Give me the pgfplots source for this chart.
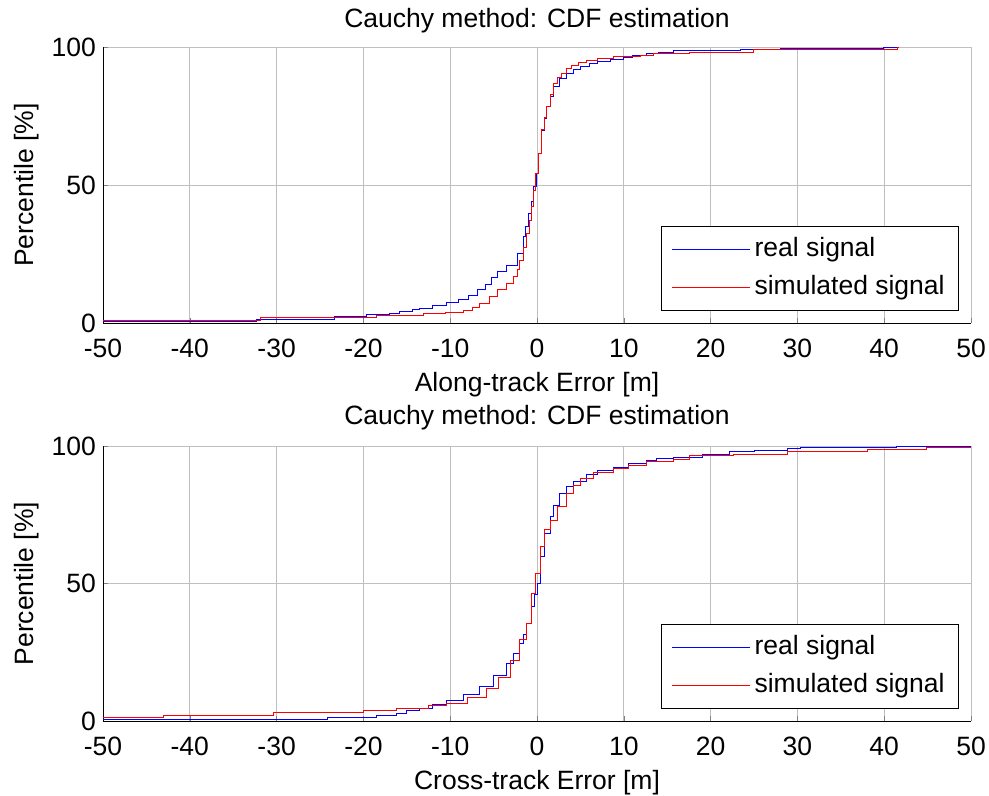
\documentclass[border=0pt]{standalone}
\usepackage{fontspec}
\setmainfont{Liberation Sans}
\usepackage{pgfplots}
\pgfplotsset{compat=1.18}
\newcommand\fs{\fontsize{13.25}{15.9}\selectfont}
\pgfplotsset{cdfax/.style={
  scale only axis, width=434pt,
  xmin=-50, xmax=50, ymin=0, ymax=100,
  xtick={-50,-40,...,50}, ytick={0,50,100},
  axis x line*=bottom, axis y line*=left,
  xtick pos=both, ytick pos=both,
  tick align=inside,
  grid=major, major grid style={draw=black!25},
  major tick length=2.5pt,
  /pgf/number format/assume math mode=true,
  tick label style={font=\fs},
  every x tick label/.append style={anchor=base, yshift=-17.5pt},
  every y tick label/.append style={anchor=east},
  xlabel style={font=\fs, at={(axis description cs:0.5,0)}, anchor=base, yshift=-34.5pt},
  ylabel style={font=\fs, at={(axis description cs:-0.0806,0.5)}, anchor=base},
  title style={font=\fs, at={(axis description cs:0.5,1)}, anchor=base},
  legend style={at={(axis description cs:1,0)}, anchor=south east, xshift=-6pt, yshift=6pt,
    draw=black, font=\fs, inner xsep=5pt, inner ysep=3.3pt,
    row sep=2.7pt, nodes={text height=9.5pt, text depth=2.8pt, inner sep=2pt}},
  legend cell align=left,
  legend image code/.code={\draw[mark repeat=2,mark phase=2,#1] plot coordinates {(0pt,0pt) (19.5pt,0pt) (39pt,0pt)};},
}}
\begin{document}
\begin{tikzpicture}
\useasboundingbox (0,0) rectangle (494.5pt,398pt);
\begin{axis}[cdfax, height=138pt, at={(51.5pt,236.5pt)}, anchor=south west,
  title={Cauchy method: CDF estimation}, title style={yshift=3.5pt},
  xlabel={Along-track Error [m]}, ylabel={Percentile [\%]}]
\addplot[draw=blue, const plot] coordinates {
(-50,0.5) (-32.3,1.3) (-23.3,2.3) (-19.6,3.1) (-17,3.5) (-15.8,4.1) (-14.3,5.0) (-13.5,5.3) (-12,6.2) (-10.4,7.5) (-9,8.5) (-7.9,10) (-6.9,12) (-6,14) (-5.2,16.5) (-4.6,18.6) (-3.5,21) (-2.3,25.2) (-1.6,31.3) (-1.3,35) (-1.0,39.7) (-0.7,44) (-0.4,49.4) (-0.1,54.2) (0.15,61.5) (0.5,69.9) (0.8,74) (1.1,78.4) (1.5,82) (1.9,85.6) (2.6,88.5) (3.4,90.5) (4.2,91.8) (5.0,92.9) (6,93.9) (6.9,94.7) (8.5,95.6) (9.9,96.3) (11,97) (12.6,97.5) (14,98) (15.7,98.6) (23.4,99.3) (28,99.6) (39.9,100) (41.7,100)
};
\addlegendentry{real signal}
\addplot[draw=red, const plot] coordinates {
(-50,1.1) (-31.9,2.1) (-18.5,2.8) (-13.1,3.5) (-10.5,4.0) (-8.5,4.7) (-7.5,5.8) (-6.6,7.1) (-5.5,9.5) (-4.6,12) (-3.5,14.5) (-2.7,16.8) (-2.3,19.5) (-2.0,22.8) (-1.6,27.5) (-1.2,32.5) (-0.9,37) (-0.6,42.1) (-0.4,48) (-0.2,54.2) (0.15,61.5) (0.5,70) (0.8,74.5) (1.1,78.4) (1.5,83) (1.9,86.8) (2.3,89) (2.8,90.5) (3.4,92.3) (4.0,93.5) (4.8,94.3) (5.7,95) (7,95.8) (8.8,96.5) (11.9,97.1) (13.4,97.6) (17.6,98.2) (24.9,99.2) (41.5,100) (41.7,100)
};
\addlegendentry{simulated signal}
\end{axis}
\begin{axis}[cdfax, height=137.5pt, at={(51.5pt,37.5pt)}, anchor=south west,
  title={Cauchy method: CDF estimation}, title style={yshift=4.8pt},
  xlabel={Cross-track Error [m]}, ylabel={Percentile [\%]}]
\addplot[draw=blue, const plot] coordinates {
(-50,0.6) (-24.2,1.3) (-18.5,2.2) (-16.2,2.9) (-15.1,3.7) (-13.6,4.5) (-12,6.2) (-10.4,7.6) (-8.5,9.5) (-6.6,12.5) (-5,16.5) (-3.5,21) (-2.7,24.5) (-2,28.3) (-1.6,31.5) (-1.2,35.5) (-0.6,41.6) (-0.3,46) (0,50.1) (0.35,59.7) (0.9,68.3) (1.5,74.3) (1.9,78.5) (2.6,82.8) (3.4,85.3) (4.2,87) (5.7,89.5) (7,91) (8.8,92.2) (10.5,93.5) (12.6,94.7) (13.8,95.5) (15.7,96) (19.1,97.1) (22.2,97.9) (25.1,98.5) (28.8,99.1) (30.3,99.5) (41.4,100) (50,100)
};
\addlegendentry{real signal}
\addplot[draw=red, const plot] coordinates {
(-50,1.3) (-43,2.2) (-30.4,3.0) (-20,3.7) (-16.2,4.5) (-12.5,5.8) (-10.4,6.4) (-8,8.5) (-5.8,11.9) (-4.5,16) (-3.1,22.2) (-2,29.5) (-1.2,35.6) (-0.6,46.4) (-0.2,53.7) (0.35,63.4) (0.9,69.5) (1.5,73.1) (2.3,77.9) (3.4,82.8) (4.2,85.5) (5.0,88.3) (6.5,90.5) (8.8,91.8) (10.5,93) (12.6,94.3) (15.7,95.2) (17.6,96.4) (22.6,97.1) (28.8,97.9) (38.1,98.8) (44.9,99.5) (50,99.5)
};
\addlegendentry{simulated signal}
\end{axis}
\end{tikzpicture}
\end{document}
